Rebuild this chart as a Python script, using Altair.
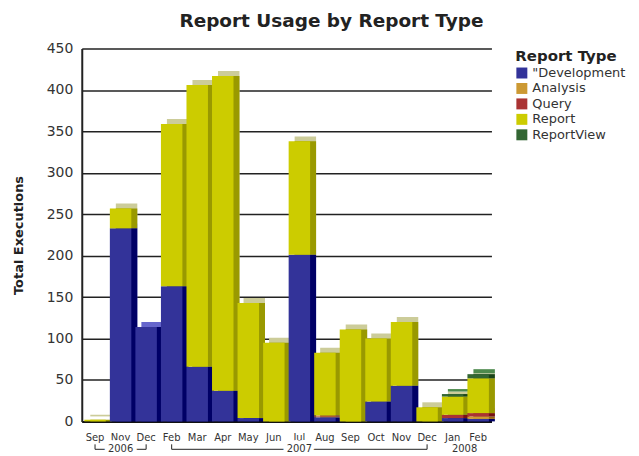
import altair as alt
import pandas as pd

# ---- data ----
months = ["Sep", "Nov", "Dec", "Feb", "Mar", "Apr", "May", "Jun",
          "Jul", "Aug", "Sep", "Oct", "Nov", "Dec", "Jan", "Feb"]
years = ["2006", "2006", "2006", "2007", "2007", "2007", "2007", "2007",
         "2007", "2007", "2007", "2007", "2007", "2007", "2008", "2008"]
types = ['"Development', "Analysis", "Query", "Report", "ReportView"]

development = [0, 233, 114, 163, 66, 37, 4, 0, 201, 5, 0, 24, 43, 0, 4, 3]
analysis    = [0, 0, 0, 0, 0, 0, 0, 0, 0, 1, 0, 0, 0, 0, 0, 3]
query       = [0, 0, 0, 0, 0, 0, 0, 0, 0, 1, 0, 0, 0, 0, 4, 4]
report      = [2, 24, 0, 196, 340, 380, 139, 95, 137, 76, 111, 76, 77, 17, 22, 42]
reportview  = [0, 0, 0, 0, 0, 0, 0, 0, 0, 0, 0, 0, 0, 0, 3, 5]

y_ticks = [0, 50, 100, 150, 200, 250, 300, 350, 400, 450]

year_labels = ["2006", "2007"]
year_center = ["Nov 2006", "Jul 2007"]
year_start = ["Sep 2006", "Feb 2007"]
year_end = ["Dec 2006", "Dec 2007"]
last_year_label = ["2008"]
last_year_at = ["Jan 2008"]

# ---- styles ----
front_colors = ["#333399", "#cc9933", "#aa3333", "#cccc00", "#336633"]
side_colors = ["#000066", "#996611", "#771111", "#999900", "#1a441a"]
top_colors = ["#6666cc", "#ddbb77", "#cc6666", "#cccc99", "#4d8a4d"]

keys = [f"{m} {y}" for m, y in zip(months, years)]
series = [development, analysis, query, report, reportview]

rows = []
for ti, (t, vals) in enumerate(zip(types, series)):
    for k, v in zip(keys, vals):
        rows.append({"key": k, "type": t, "value": v, "order": ti,
                     "side": side_colors[ti], "top": top_colors[ti]})
df = pd.DataFrame(rows)

W, H = 411, 374
FONT = "DejaVu Sans"

xscale = alt.Scale(domain=keys, paddingInner=0.16, paddingOuter=0.1)
xaxis = alt.Axis(title=None, labelExpr="slice(datum.label, 0, 3)",
                 labelAngle=0, ticks=False, domainColor="#111",
                 domainWidth=2, labelFont=FONT, labelFontSize=10,
                 labelColor="#333", labelPadding=11)
xenc = alt.X("key:N", scale=xscale, axis=xaxis)
yenc = alt.Y("value:Q", stack="zero",
             scale=alt.Scale(domain=[0, 450], nice=False),
             axis=alt.Axis(values=y_ticks, title="Total Executions", grid=True,
                           gridColor="#222", gridWidth=1.5, domainColor="#222",
                           domainWidth=2, ticks=False, labelFont=FONT,
                           labelFontSize=14, labelColor="#333", labelPadding=9,
                           titleFont=FONT, titleFontSize=13,
                           titleFontWeight="bold", titleColor="#222",
                           titlePadding=21))
order = alt.Order("order:Q", sort="ascending")

base = alt.Chart(df)

top_face = base.mark_bar(xOffset=6, yOffset=-5).encode(
    x=xenc, y=yenc, color=alt.Color("top:N", scale=None), order=order)
side_face = base.mark_bar(xOffset=6).encode(
    x=xenc, y=yenc, color=alt.Color("side:N", scale=None), order=order)
front = base.mark_bar().encode(
    x=xenc, y=yenc,
    color=alt.Color("type:N", sort=types,
                    scale=alt.Scale(domain=types, range=front_colors),
                    legend=alt.Legend(title="Report Type")),
    order=order)

YR = H + 28
ydf = pd.DataFrame({"label": year_labels, "center": year_center,
                    "key": year_start, "key_end": year_end})
ybase = alt.Chart(ydf)
hline = ybase.mark_rule(color="#222", strokeWidth=1).encode(
    x=xenc, x2="key_end:N", y=alt.value(YR))
ltick = ybase.mark_rule(color="#222", strokeWidth=1).encode(
    x=xenc, y=alt.value(YR - 5), y2=alt.value(YR))
rtick = ybase.transform_calculate(key="datum.key_end").mark_rule(
    color="#222", strokeWidth=1).encode(
    x=xenc, y=alt.value(YR - 5), y2=alt.value(YR))
cbase = ybase.transform_calculate(key="datum.center")
halo = cbase.mark_text(font=FONT, fontSize=10, stroke="white", strokeWidth=8,
                       baseline="middle", fill="white").encode(
    x=xenc, y=alt.value(YR), text="label:N")
ytext = cbase.mark_text(font=FONT, fontSize=10, color="#333",
                        baseline="middle").encode(
    x=xenc, y=alt.value(YR), text="label:N")
ldf = pd.DataFrame({"label": last_year_label, "key": last_year_at})
ytext2 = alt.Chart(ldf).mark_text(font=FONT, fontSize=10, color="#333",
                                  baseline="middle", dx=12).encode(
    x=xenc, y=alt.value(YR), text="label:N")

chart = alt.layer(top_face, side_face, front, hline, ltick, rtick, halo,
                  ytext, ytext2).properties(
    width=W, height=H,
    autosize=alt.AutoSizeParams(type="none"),
    padding={"left": 74, "top": 40, "right": 140, "bottom": 32},
    title=alt.TitleParams("Report Usage by Report Type", font=FONT,
                          fontSize=18.5, fontWeight="bold", color="#222",
                          anchor="middle", dx=45, offset=11),
).configure_view(stroke=None).configure_legend(
    titleFont=FONT, titleFontSize=15, titleFontWeight="bold",
    titleColor="#222", labelFont=FONT, labelFontSize=13, labelColor="#333",
    symbolType="square", symbolSize=121, symbolStrokeWidth=0,
    rowPadding=1.5, offset=24, padding=0, titlePadding=3,
)

chart.save("out.html", embed_options={"renderer": "svg", "actions": False})
